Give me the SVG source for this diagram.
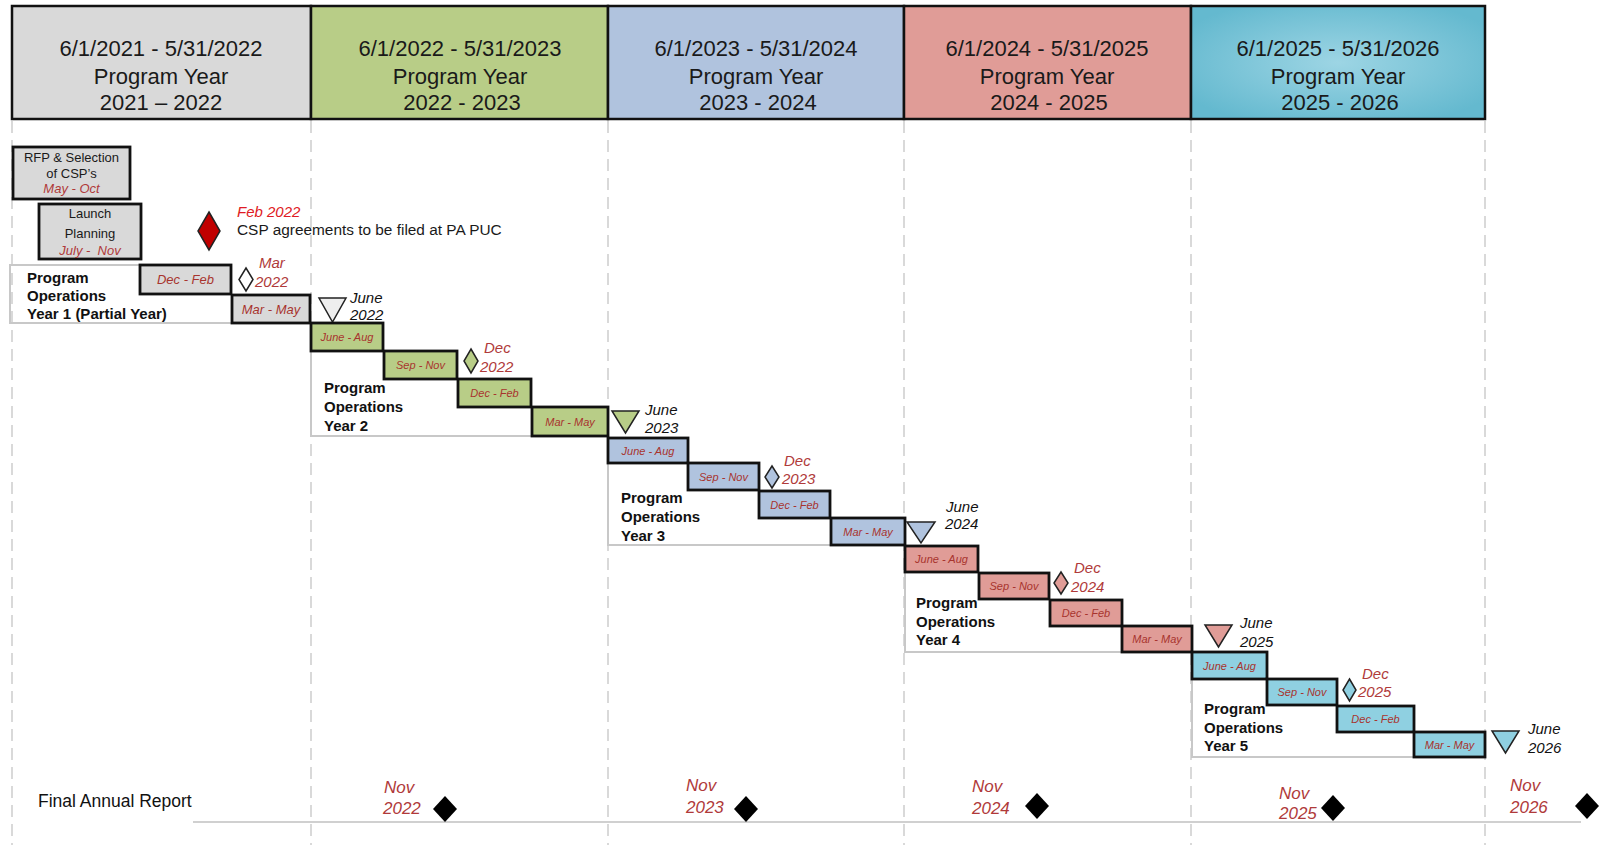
<svg xmlns="http://www.w3.org/2000/svg" width="1599" height="845" viewBox="0 0 1599 845">
<defs>
<radialGradient id="tealGrad" cx="50%" cy="50%" r="60%">
<stop offset="0%" stop-color="#9dd5e4"/>
<stop offset="100%" stop-color="#64b9cf"/>
</radialGradient>
<style>
text{font-family:"Liberation Sans",Arial,sans-serif;}
.hdr{stroke:#111;stroke-width:2.5;}
.htx{font-size:22px;fill:#1a1a1a;text-anchor:middle;}
.q{stroke:#111;stroke-width:2.8;}
.qt{font-size:11px;font-style:italic;fill:#a8342e;text-anchor:middle;}
.qt13{font-size:13px;font-style:italic;fill:#a8342e;text-anchor:middle;}
.grid{stroke:#d9d9d9;stroke-width:2;stroke-dasharray:12 7;fill:none;}
.ybox{stroke:#c8c8c8;stroke-width:2;fill:none;}
.yl{font-size:15px;font-weight:bold;fill:#111;}
.lbl{font-size:15px;font-style:italic;fill:#b03a3a;}
.jl{font-size:15px;font-style:italic;fill:#111;}
.nov{font-size:17px;font-style:italic;fill:#b03a3a;}
.mk{stroke:#222;stroke-width:1.5;}
.g{fill:#d9d9d9;} .gr{fill:#b8cd87;} .bl{fill:#b0c3de;} .rd{fill:#e09c97;} .tl{fill:#8fd0e1;}
.sm{font-size:13px;fill:#1a1a1a;text-anchor:middle;}
.smr{font-size:13px;font-style:italic;fill:#b03a3a;text-anchor:middle;white-space:pre;}
</style>
</defs>
<rect width="1599" height="845" fill="#ffffff"/>

<g id="gridlines">
<line class="grid" x1="12" y1="121" x2="12" y2="845"/>
<line class="grid" x1="311" y1="121" x2="311" y2="845"/>
<line class="grid" x1="608" y1="121" x2="608" y2="845"/>
<line class="grid" x1="904" y1="121" x2="904" y2="845"/>
<line class="grid" x1="1191" y1="121" x2="1191" y2="845"/>
<line class="grid" x1="1485" y1="121" x2="1485" y2="845"/>
<line x1="193" y1="822" x2="1581" y2="822" stroke="#d0d0d0" stroke-width="2"/>
</g>

<g id="header">
<g id="py2021">
<rect class="hdr g" x="12" y="6" width="299" height="113"/>
<text class="htx" x="161" y="56">6/1/2021 - 5/31/2022</text>
<text class="htx" x="161" y="84">Program Year</text>
<text class="htx" x="161" y="110">2021 – 2022</text>
</g>
<g id="py2022">
<rect class="hdr gr" x="311" y="6" width="297" height="113"/>
<text class="htx" x="460" y="56">6/1/2022 - 5/31/2023</text>
<text class="htx" x="460" y="84">Program Year</text>
<text class="htx" x="462" y="110">2022 - 2023</text>
</g>
<g id="py2023">
<rect class="hdr bl" x="608" y="6" width="296" height="113"/>
<text class="htx" x="756" y="56">6/1/2023 - 5/31/2024</text>
<text class="htx" x="756" y="84">Program Year</text>
<text class="htx" x="758" y="110">2023 - 2024</text>
</g>
<g id="py2024">
<rect class="hdr rd" x="904" y="6" width="287" height="113"/>
<text class="htx" x="1047" y="56">6/1/2024 - 5/31/2025</text>
<text class="htx" x="1047" y="84">Program Year</text>
<text class="htx" x="1049" y="110">2024 - 2025</text>
</g>
<g id="py2025">
<rect class="hdr" fill="url(#tealGrad)" x="1191" y="6" width="294" height="113"/>
<text class="htx" x="1338" y="56">6/1/2025 - 5/31/2026</text>
<text class="htx" x="1338" y="84">Program Year</text>
<text class="htx" x="1340" y="110">2025 - 2026</text>
</g>
</g>

<g id="rfp">
<rect class="q g" x="13" y="147" width="117" height="52"/>
<text class="sm" x="71.5" y="162">RFP &amp; Selection</text>
<text class="sm" x="71.5" y="177.5">of CSP’s</text>
<text class="smr" x="71.5" y="192.5">May - Oct</text>
</g>

<g id="launch">
<rect class="q g" x="39" y="204" width="102" height="55"/>
<text class="sm" x="90" y="217.5">Launch</text>
<text class="sm" x="90" y="237.5">Planning</text>
<text class="smr" x="90" y="254.5">July -  Nov</text>
</g>

<g id="csp-milestone">
<polygon class="mk" fill="#c00000" points="209,212 220,231 209,250 198,231"/>
<text x="237" y="217" style="font-size:15px;font-style:italic;fill:#e01b24;">Feb 2022</text>
<text x="237" y="235" style="font-size:15.4px;fill:#1a1a1a;">CSP agreements to be filed at PA PUC</text>
</g>

<g id="year1">
<path class="ybox" d="M140,265 H10 V323 H232"/>
<rect class="q g" x="140" y="265" width="91" height="29"/>
<text class="qt13" x="185.5" y="284">Dec - Feb</text>
<rect class="q g" x="232" y="295" width="78" height="28"/>
<text class="qt13" x="271" y="313.5">Mar - May</text>
<text class="yl" x="27" y="283">Program</text>
<text class="yl" x="27" y="301">Operations</text>
<text class="yl" x="27" y="319">Year 1 (Partial Year)</text>
<polygon class="mk" fill="#ffffff" points="246,268 253,279.5 246,291 239,279.5"/>
<text class="lbl" x="259" y="268">Mar</text>
<text class="lbl" x="255" y="287">2022</text>
</g>

<g id="june2022">
<polygon class="mk" fill="#eeeeee" points="319,298 346,298 332.5,322"/>
<text class="jl" x="350" y="303">June</text>
<text class="jl" x="350" y="320">2022</text>
</g>

<g id="year2">
<path class="ybox" d="M383,323 H311 V436 H532"/>
<rect class="q gr" x="311" y="323" width="72" height="28"/>
<text class="qt" x="347" y="341">June - Aug</text>
<rect class="q gr" x="384" y="351" width="73" height="28"/>
<text class="qt" x="420.5" y="369">Sep - Nov</text>
<rect class="q gr" x="458" y="379" width="73" height="28"/>
<text class="qt" x="494.5" y="397">Dec - Feb</text>
<rect class="q gr" x="532" y="407" width="76" height="29"/>
<text class="qt" x="570" y="425.5">Mar - May</text>
<text class="yl" x="324" y="393">Program</text>
<text class="yl" x="324" y="412">Operations</text>
<text class="yl" x="324" y="431">Year 2</text>
<polygon class="mk" fill="#b8cd87" points="471,349 478,361 471,373 464,361"/>
<text class="lbl" x="484" y="353">Dec</text>
<text class="lbl" x="480" y="372">2022</text>
</g>

<g id="june2023">
<polygon class="mk" fill="#b8cd87" points="612,411 639,411 625.5,433"/>
<text class="jl" x="645" y="415">June</text>
<text class="jl" x="645" y="433">2023</text>
</g>

<g id="year3">
<path class="ybox" d="M688,438 H608 V545 H831"/>
<rect class="q bl" x="608" y="438" width="80" height="25"/>
<text class="qt" x="648" y="454.5">June - Aug</text>
<rect class="q bl" x="688" y="463" width="71" height="27"/>
<text class="qt" x="723.5" y="480.5">Sep - Nov</text>
<rect class="q bl" x="759" y="491" width="71" height="27"/>
<text class="qt" x="794.5" y="508.5">Dec - Feb</text>
<rect class="q bl" x="831" y="518" width="74" height="27"/>
<text class="qt" x="868" y="535.5">Mar - May</text>
<text class="yl" x="621" y="503">Program</text>
<text class="yl" x="621" y="522">Operations</text>
<text class="yl" x="621" y="541">Year 3</text>
<polygon class="mk" fill="#b0c3de" points="772,466 779,477 772,488 765,477"/>
<text class="lbl" x="784" y="466">Dec</text>
<text class="lbl" x="782" y="484">2023</text>
</g>

<g id="june2024">
<polygon class="mk" fill="#b0c3de" points="907,522 935,522 921,543"/>
<text class="jl" x="946" y="512">June</text>
<text class="jl" x="945" y="529">2024</text>
</g>

<g id="year4">
<path class="ybox" d="M978,546 H905 V652 H1122"/>
<rect class="q rd" x="905" y="546" width="73" height="26"/>
<text class="qt" x="941.5" y="563">June - Aug</text>
<rect class="q rd" x="979" y="573" width="70" height="26"/>
<text class="qt" x="1014" y="590">Sep - Nov</text>
<rect class="q rd" x="1050" y="600" width="72" height="26"/>
<text class="qt" x="1086" y="617">Dec - Feb</text>
<rect class="q rd" x="1122" y="626" width="70" height="26"/>
<text class="qt" x="1157" y="643">Mar - May</text>
<text class="yl" x="916" y="608">Program</text>
<text class="yl" x="916" y="627">Operations</text>
<text class="yl" x="916" y="645">Year 4</text>
<polygon class="mk" fill="#e09c97" points="1061,572 1068,583 1061,594 1054,583"/>
<text class="lbl" x="1074" y="573">Dec</text>
<text class="lbl" x="1071" y="592">2024</text>
</g>

<g id="june2025">
<polygon class="mk" fill="#e09c97" points="1205,625 1232,625 1218.5,647"/>
<text class="jl" x="1240" y="628">June</text>
<text class="jl" x="1240" y="647">2025</text>
</g>

<g id="year5">
<path class="ybox" d="M1267,652 H1192 V757 H1414"/>
<rect class="q tl" x="1192" y="652" width="75" height="27"/>
<text class="qt" x="1229.5" y="669.5">June - Aug</text>
<rect class="q tl" x="1267" y="679" width="70" height="26"/>
<text class="qt" x="1302" y="696">Sep - Nov</text>
<rect class="q tl" x="1337" y="706" width="77" height="26"/>
<text class="qt" x="1375.5" y="723">Dec - Feb</text>
<rect class="q tl" x="1414" y="732" width="71" height="25"/>
<text class="qt" x="1449.5" y="748.5">Mar - May</text>
<text class="yl" x="1204" y="714">Program</text>
<text class="yl" x="1204" y="733">Operations</text>
<text class="yl" x="1204" y="751">Year 5</text>
<polygon class="mk" fill="#8fd0e1" points="1349.5,679 1356,690 1349.5,701 1343,690"/>
<text class="lbl" x="1362" y="679">Dec</text>
<text class="lbl" x="1358" y="697">2025</text>
</g>

<g id="june2026">
<polygon class="mk" fill="#8fd0e1" points="1492,731 1519,731 1505.5,753"/>
<text class="jl" x="1528" y="734">June</text>
<text class="jl" x="1528" y="753">2026</text>
</g>

<g id="final-report">
<text x="38" y="807" style="font-size:17.5px;fill:#111;">Final Annual Report</text>
<g id="nov2022">
<polygon fill="#000" points="445,796 457,809 445,822 433,809"/>
<text class="nov" x="384" y="793">Nov</text>
<text class="nov" x="383" y="814">2022</text>
</g>
<g id="nov2023">
<polygon fill="#000" points="746,796 758,809 746,822 734,809"/>
<text class="nov" x="686" y="791">Nov</text>
<text class="nov" x="686" y="813">2023</text>
</g>
<g id="nov2024">
<polygon fill="#000" points="1037,793 1049,806 1037,819 1025,806"/>
<text class="nov" x="972" y="792">Nov</text>
<text class="nov" x="972" y="814">2024</text>
</g>
<g id="nov2025">
<polygon fill="#000" points="1333,795 1345,808 1333,821 1321,808"/>
<text class="nov" x="1279" y="799">Nov</text>
<text class="nov" x="1279" y="819">2025</text>
</g>
<g id="nov2026">
<polygon fill="#000" points="1587,793 1599,806 1587,819 1575,806"/>
<text class="nov" x="1510" y="791">Nov</text>
<text class="nov" x="1510" y="813">2026</text>
</g>
</g>
</svg>
